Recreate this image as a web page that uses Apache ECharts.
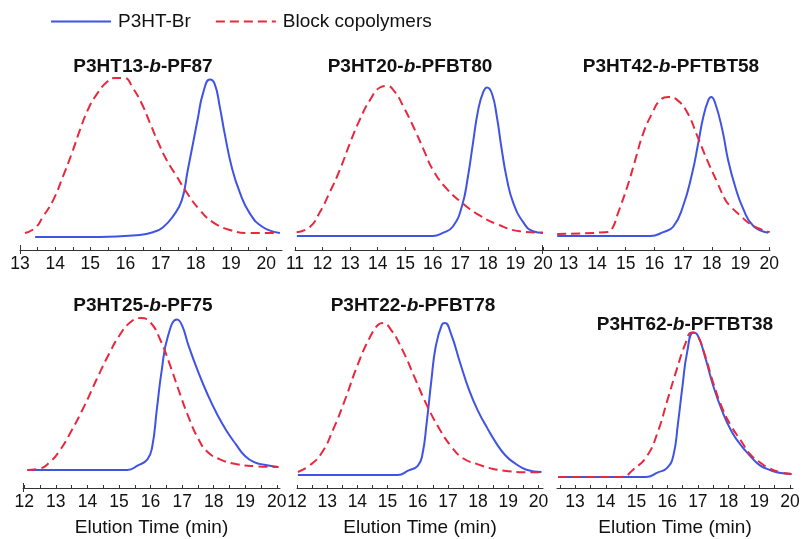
<!DOCTYPE html>
<html>
<head>
<meta charset="utf-8">
<script src="https://cdn.jsdelivr.net/npm/echarts@6/dist/echarts.min.js"></script>
<style>
  html, body { margin: 0; padding: 0; background: #fff; }
  #chart { width: 806px; height: 539px; }
</style>
</head>
<body>
<div id="chart"></div>
<script>
// GPC traces: P3HT-Br macroinitiator (solid) vs. block copolymer (dashed)
const seriesNames = ['P3HT-Br', 'Block copolymers'];

// Panel titles, split so the block marker "b" can be set in italics
const titleParts = [
  ['P3HT13-', 'b', '-PF87'],
  ['P3HT20-', 'b', '-PFBT80'],
  ['P3HT42-', 'b', '-PFTBT58'],
  ['P3HT25-', 'b', '-PF75'],
  ['P3HT22-', 'b', '-PFBT78'],
  ['P3HT62-', 'b', '-PFTBT38']
];
const axisName = 'Elution Time (min)';

// Tick positions and tick labels (min)
const p1Ticks = [13, 13.5, 14, 14.5, 15, 15.5, 16, 16.5, 17, 17.5, 18, 18.5, 19, 19.5, 20];
const p1Labels = [13, 14, 15, 16, 17, 18, 19, 20];
const p2Ticks = [11, 12, 13, 14, 15, 16, 17, 18, 19, 20];
const p2Labels = [11, 12, 13, 14, 15, 16, 17, 18, 19, 20];
const p3Ticks = [13, 14, 15, 16, 17, 18, 19, 20];
const p3Labels = [13, 14, 15, 16, 17, 18, 19, 20];
const p4Ticks = [12, 12.5, 13, 13.5, 14, 14.5, 15, 15.5, 16, 16.5, 17, 17.5, 18, 18.5, 19, 19.5, 20];
const p4Labels = [12, 13, 14, 15, 16, 17, 18, 19, 20];
const p5Ticks = [12, 12.5, 13, 13.5, 14, 14.5, 15, 15.5, 16, 16.5, 17, 17.5, 18, 18.5, 19, 19.5, 20];
const p5Labels = [12, 13, 14, 15, 16, 17, 18, 19, 20];
const p6Ticks = [12.5, 13, 13.5, 14, 14.5, 15, 15.5, 16, 16.5, 17, 17.5, 18, 18.5, 19, 19.5, 20];
const p6Labels = [13, 14, 15, 16, 17, 18, 19, 20];

// Panel 1: P3HT13-b-PF87
const p1BrTime = [13.43, 15.27, 16.4, 16.78, 17.06, 17.35, 17.6, 17.77, 17.92, 18.06, 18.2, 18.4, 18.54, 18.68, 18.82, 19.02, 19.25, 19.53, 19.9, 20.39];
const p1BrSignal = [0, 0, 0.013, 0.03, 0.06, 0.13, 0.23, 0.42, 0.59, 0.75, 0.9, 0.99, 0.96, 0.82, 0.65, 0.44, 0.28, 0.15, 0.063, 0.025];
const p1BlockTime = [13.14, 13.43, 13.65, 13.94, 14.22, 14.48, 14.7, 14.93, 15.19, 15.47, 15.7, 15.98, 16.2, 16.46, 16.69, 16.92, 17.18, 17.46, 17.74, 18.11, 18.48, 18.97, 19.5, 20.3];
const p1BlockSignal = [0.025, 0.057, 0.126, 0.23, 0.38, 0.53, 0.67, 0.8, 0.9, 0.975, 1.0, 1.0, 0.94, 0.84, 0.72, 0.6, 0.48, 0.38, 0.28, 0.17, 0.094, 0.044, 0.025, 0.025];

// Panel 2: P3HT20-b-PFBT80
const p2BrTime = [11.07, 16.0, 16.37, 16.73, 17.06, 17.28, 17.46, 17.65, 17.83, 17.97, 18.15, 18.33, 18.5, 18.69, 18.92, 19.28, 19.64, 20.0];
const p2BrSignal = [0, 0, 0.02, 0.06, 0.19, 0.38, 0.59, 0.8, 0.91, 0.94, 0.9, 0.75, 0.55, 0.36, 0.21, 0.088, 0.03, 0.02];
const p2BlockTime = [11.06, 11.54, 11.9, 12.27, 12.63, 13.0, 13.36, 13.72, 14.08, 14.33, 14.63, 14.93, 15.3, 15.66, 16.0, 16.5, 17.06, 17.7, 18.33, 19.16, 20.0];
const p2BlockSignal = [0.023, 0.057, 0.15, 0.28, 0.42, 0.59, 0.74, 0.86, 0.94, 0.95, 0.91, 0.82, 0.69, 0.55, 0.42, 0.3, 0.21, 0.13, 0.075, 0.03, 0.02];

// Panel 3: P3HT42-b-PFTBT58
const p3BrTime = [12.61, 15.86, 16.31, 16.66, 17.0, 17.32, 17.53, 17.7, 17.88, 17.98, 18.12, 18.37, 18.57, 18.82, 19.1, 19.45, 19.97];
const p3BrSignal = [0, 0, 0.025, 0.06, 0.19, 0.4, 0.59, 0.75, 0.86, 0.88, 0.84, 0.67, 0.48, 0.31, 0.17, 0.063, 0.02];
const p3BlockTime = [12.61, 14.35, 14.52, 14.74, 15.05, 15.33, 15.61, 15.93, 16.2, 16.48, 16.8, 17.15, 17.5, 17.84, 18.19, 18.47, 18.64, 18.99, 19.34, 19.69, 20.02];
const p3BlockSignal = [0.013, 0.025, 0.044, 0.15, 0.31, 0.48, 0.65, 0.78, 0.86, 0.88, 0.86, 0.78, 0.63, 0.48, 0.34, 0.23, 0.19, 0.13, 0.075, 0.044, 0.025];

// Panel 4: P3HT25-b-PF75
const p4BrTime = [12.1, 15.26, 15.6, 15.9, 16.05, 16.2, 16.35, 16.55, 16.84, 17.0, 17.2, 17.5, 17.8, 18.1, 18.4, 18.7, 19.0, 19.3, 19.6, 20.05];
const p4BrSignal = [0, 0, 0.03, 0.07, 0.15, 0.4, 0.65, 0.88, 0.99, 0.95, 0.82, 0.65, 0.5, 0.37, 0.26, 0.17, 0.09, 0.05, 0.035, 0.02];
const p4BlockTime = [12.1, 12.5, 12.8, 13.1, 13.5, 13.9, 14.3, 14.7, 15.0, 15.35, 15.7, 16.0, 16.3, 16.6, 16.9, 17.2, 17.5, 17.8, 18.2, 18.7, 19.3, 20.05];
const p4BlockSignal = [0, 0.01, 0.05, 0.12, 0.26, 0.42, 0.6, 0.77, 0.88, 0.97, 1.0, 0.97, 0.86, 0.7, 0.52, 0.35, 0.21, 0.12, 0.07, 0.04, 0.025, 0.02];

// Panel 5: P3HT22-b-PFBT78
const p5BrTime = [12.03, 15.33, 15.7, 16.0, 16.15, 16.3, 16.45, 16.6, 16.8, 16.9, 17.1, 17.4, 17.7, 18.0, 18.3, 18.6, 18.9, 19.2, 19.6, 20.1];
const p5BrSignal = [0, 0, 0.03, 0.06, 0.13, 0.35, 0.62, 0.85, 0.99, 1.0, 0.93, 0.74, 0.56, 0.42, 0.31, 0.21, 0.13, 0.08, 0.035, 0.02];
const p5BlockTime = [12.03, 12.4, 12.8, 13.2, 13.6, 14.0, 14.4, 14.7, 14.85, 15.1, 15.5, 15.9, 16.3, 16.7, 17.1, 17.5, 18.0, 18.5, 19.0, 19.5, 20.1];
const p5BlockSignal = [0.02, 0.06, 0.14, 0.3, 0.5, 0.72, 0.9, 0.99, 1.0, 0.96, 0.82, 0.64, 0.46, 0.31, 0.19, 0.11, 0.07, 0.04, 0.025, 0.018, 0.018];

// Panel 6: P3HT62-b-PFTBT38
const p6BrTime = [12.45, 15.3, 15.7, 16.0, 16.2, 16.35, 16.5, 16.65, 16.85, 17.0, 17.25, 17.5, 17.8, 18.1, 18.4, 18.7, 19.0, 19.3, 19.6, 20.05];
const p6BrSignal = [0, 0, 0.03, 0.06, 0.14, 0.35, 0.6, 0.82, 0.95, 0.93, 0.78, 0.6, 0.43, 0.3, 0.21, 0.14, 0.08, 0.05, 0.03, 0.02];
const p6BlockTime = [12.45, 14.5, 14.9, 15.35, 15.7, 16.0, 16.3, 16.6, 16.8, 16.95, 17.2, 17.5, 17.8, 18.1, 18.4, 18.7, 19.0, 19.3, 19.7, 20.05];
const p6BlockSignal = [0, 0, 0.05, 0.14, 0.3, 0.5, 0.7, 0.88, 0.95, 0.94, 0.82, 0.62, 0.45, 0.33, 0.24, 0.15, 0.1, 0.06, 0.03, 0.02];

const panelData = [
  { ticks: p1Ticks, labels: p1Labels, br: [p1BrTime, p1BrSignal], block: [p1BlockTime, p1BlockSignal] },
  { ticks: p2Ticks, labels: p2Labels, br: [p2BrTime, p2BrSignal], block: [p2BlockTime, p2BlockSignal] },
  { ticks: p3Ticks, labels: p3Labels, br: [p3BrTime, p3BrSignal], block: [p3BlockTime, p3BlockSignal] },
  { ticks: p4Ticks, labels: p4Labels, br: [p4BrTime, p4BrSignal], block: [p4BlockTime, p4BlockSignal] },
  { ticks: p5Ticks, labels: p5Labels, br: [p5BrTime, p5BrSignal], block: [p5BlockTime, p5BlockSignal] },
  { ticks: p6Ticks, labels: p6Labels, br: [p6BrTime, p6BrSignal], block: [p6BlockTime, p6BlockSignal] }
];

// Layout of each panel (pixels) and its time window
const layout = [
  { left: 20,  right: 282, topY: 78,  baseY: 237, axisY: 250, xMin: 13,    xMax: 20.45, stub: true,  titleX: 138, titleTop: 52 },
  { left: 295, right: 543, topY: 78,  baseY: 236, axisY: 250, xMin: 11,    xMax: 20,    stub: false, titleX: 405, titleTop: 52 },
  { left: 542, right: 770, topY: 78,  baseY: 236, axisY: 250, xMin: 12.08, xMax: 20.03, stub: true,  titleX: 666, titleTop: 52 },
  { left: 23,  right: 280, topY: 318, baseY: 470, axisY: 488, xMin: 11.96, xMax: 20.1,  stub: true,  titleX: 138, titleTop: 291 },
  { left: 297, right: 543, topY: 323, baseY: 475, axisY: 488, xMin: 12,    xMax: 20.15, stub: false, titleX: 408, titleTop: 291 },
  { left: 557, right: 793, topY: 325, baseY: 477, axisY: 488, xMin: 12.41, xMax: 20.1,  stub: false, titleX: 680, titleTop: 310 }
];

const W = 806, H = 539;
const FONT = '"Liberation Sans", Arial, Helvetica, sans-serif';
const BLUE = '#3f53e4';
const RED = '#e9283d';
const AXIS = '#333333';

const zip = (xs, ys) => xs.map((x, i) => [x, ys[i]]);

const grids = [], xAxes = [], yAxes = [], series = [], titles = [];

layout.forEach((L, i) => {
  const d = panelData[i];
  grids.push({
    left: L.left, top: L.topY,
    width: L.right - L.left, height: L.axisY - L.topY,
    containLabel: false, outerBoundsMode: 'none'
  });
  const bottomRow = i >= 3;
  xAxes.push({
    type: 'value', gridIndex: i, min: L.xMin, max: L.xMax, position: 'bottom',
    axisLine: { show: true, onZero: false, lineStyle: { color: AXIS, width: 1 } },
    axisTick: { show: true, inside: true, length: 3, customValues: d.ticks, lineStyle: { color: AXIS, width: 1 } },
    axisLabel: { show: true, customValues: d.labels, margin: 5, fontSize: 17.5, color: '#111', fontFamily: FONT },
    splitLine: { show: false },
    name: bottomRow ? axisName : '',
    nameLocation: 'middle', nameGap: 30,
    nameTextStyle: { fontSize: 19, color: '#111', fontFamily: FONT }
  });
  yAxes.push({
    type: 'value', gridIndex: i, show: false,
    min: -(L.axisY - L.baseY) / (L.baseY - L.topY), max: 1
  });
  series.push({
    name: seriesNames[0], type: 'line', xAxisIndex: i, yAxisIndex: i,
    data: zip(d.br[0], d.br[1]), symbol: 'none', showSymbol: false,
    smooth: 0.5,
    lineStyle: { color: BLUE, width: 2 }, itemStyle: { color: BLUE }, z: 2
  });
  series.push({
    name: seriesNames[1], type: 'line', xAxisIndex: i, yAxisIndex: i,
    data: zip(d.block[0], d.block[1]), symbol: 'none', showSymbol: false,
    smooth: 0.5,
    lineStyle: { color: RED, width: 2, type: [9, 5] }, itemStyle: { color: RED }, z: 3
  });
  titles.push({
    text: '{n|' + titleParts[i][0] + '}{i|' + titleParts[i][1] + '}{n|' + titleParts[i][2] + '}',
    left: L.titleX, top: L.titleTop, textAlign: 'center',
    textStyle: {
      rich: {
        n: { fontSize: 19, fontWeight: 'bold', color: '#111', fontFamily: FONT },
        i: { fontSize: 19, fontWeight: 'bold', fontStyle: 'italic', color: '#111', fontFamily: FONT }
      }
    }
  });
});

// Short origin marks crossing the time axis at its start
layout.forEach((L, i) => {
  if (!L.stub) return;
  [true, false].forEach(inside => {
    xAxes.push({
      type: 'value', gridIndex: i, min: L.xMin, max: L.xMax, position: 'bottom', offset: 0,
      axisLine: { show: false, onZero: false },
      axisTick: { show: true, inside: inside, length: inside ? 5 : 4, customValues: [L.xMin], lineStyle: { color: AXIS, width: 1 } },
      axisLabel: { show: false },
      splitLine: { show: false }
    });
  });
});

const chart = echarts.init(document.getElementById('chart'), null, { renderer: 'canvas', width: W, height: H });
chart.setOption({
  backgroundColor: '#ffffff',
  animation: false,
  title: titles,
  legend: {
    data: seriesNames, left: 50, top: 12, padding: 0,
    itemWidth: 60, itemHeight: 14, itemGap: 24,
    itemStyle: { opacity: 0 },
    textStyle: { fontSize: 19, color: '#111', fontFamily: FONT, padding: [0, 0, 0, 2] }
  },
  grid: grids,
  xAxis: xAxes,
  yAxis: yAxes,
  series: series
});
</script>
</body>
</html>
